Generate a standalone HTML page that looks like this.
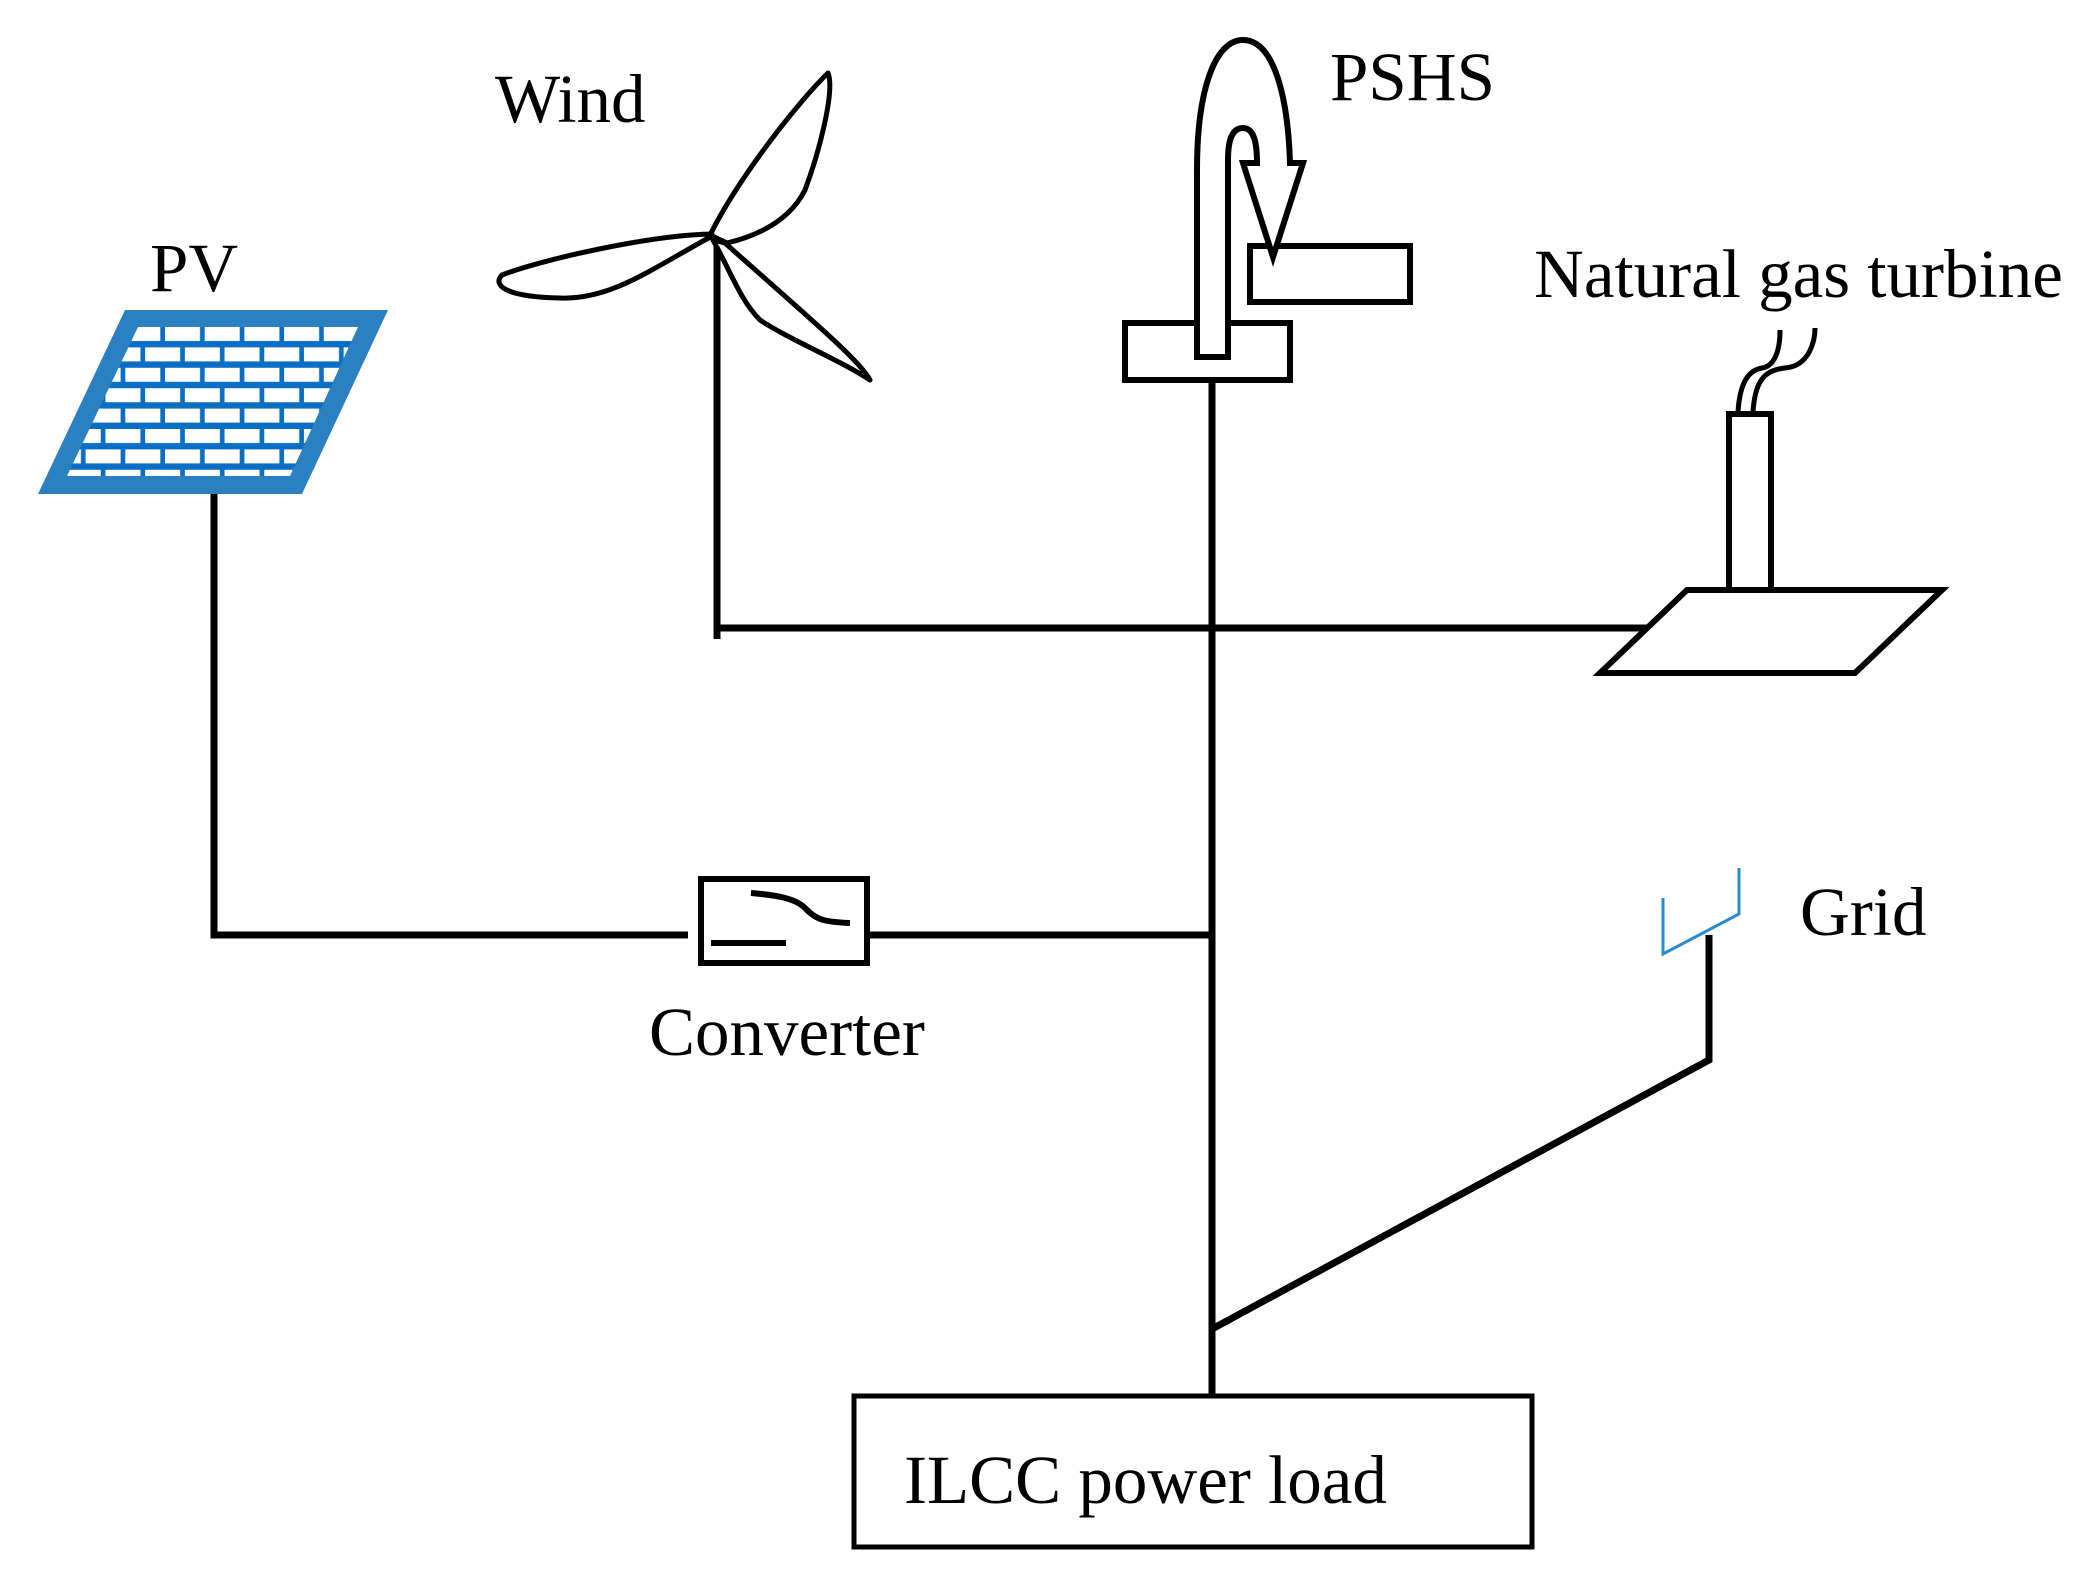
<!DOCTYPE html>
<html><head><meta charset="utf-8"><style>html,body{margin:0;padding:0;background:#fff}svg{display:block}</style></head>
<body>
<svg width="2084" height="1580" viewBox="0 0 2084 1580" xmlns="http://www.w3.org/2000/svg" font-family="Liberation Serif, serif">
<defs>
<pattern id="br" patternUnits="userSpaceOnUse" x="165" y="327" width="39.7" height="40.8">
<rect x="0" y="0" width="35" height="14" fill="#fff"/>
<rect x="19.85" y="20.4" width="35" height="14" fill="#fff"/>
<rect x="-19.85" y="20.4" width="35" height="14" fill="#fff"/>
</pattern>
</defs>
<!-- PV panel -->
<polygon points="125,310 388,310 302,494 38,494" fill="#2a80c0"/>
<polygon points="138,327 358,327 290,476 67,476" fill="#0a6fc4"/>
<polygon points="138,327 358,327 290,476 67,476" fill="url(#br)"/>
<g stroke="#000" stroke-width="7" fill="none">
<polyline points="214,494 214,935 688,935"/>
<line x1="870" y1="935" x2="1212" y2="935"/>
<line x1="1212" y1="383" x2="1212" y2="1400"/>
<line x1="717" y1="237" x2="717" y2="639"/>
<line x1="717" y1="628" x2="1660" y2="628"/>
<polyline points="1709,935 1709,1060 1212,1329"/>
</g>
<!-- converter -->
<rect x="701" y="879" width="166" height="84" fill="#fff" stroke="#000" stroke-width="6"/>
<line x1="711" y1="943" x2="786" y2="943" stroke="#000" stroke-width="6"/>
<path d="M751,893 C775,895 795,898 805,908 C815,918 820,922 850,923" stroke="#000" stroke-width="6" fill="none"/>
<!-- wind blades -->
<g stroke="#000" stroke-width="5" fill="#fff" stroke-linejoin="round">
<path d="M710,235 C740,175 800,100 828,73 C835,90 820,150 805,190 C790,220 760,235 727,243 Z"/>
<path d="M712,234 C650,235 540,260 502,275 C492,285 505,297 560,298 C610,300 650,270 712,236 Z"/>
<path d="M713,240 C730,270 740,300 760,320 C790,340 840,360 870,380 C860,360 800,310 725,243 Z"/>
</g>
<!-- PSHS -->
<rect x="1125" y="323" width="165" height="57" fill="#fff" stroke="#000" stroke-width="6"/>
<rect x="1250" y="246" width="160" height="56" fill="#fff" stroke="#000" stroke-width="6"/>
<path d="M1197,357 L1197,170 C1197,90 1215,40 1243,40 C1275,40 1288,100 1290,163 L1303,163 L1273,257 L1243,163 L1257,163 C1257,140 1253,128 1243,128 C1232,128 1228,140 1228,160 L1228,357 Z" fill="#fff" stroke="#000" stroke-width="6"/>
<!-- gas turbine -->
<g stroke="#000" stroke-width="6" fill="#fff">
<rect x="1729" y="414" width="42" height="176"/>
<polygon points="1600,673 1687,590 1942,590 1855,673"/>
</g>
<g stroke="#000" stroke-width="5" fill="none">
<path d="M1738,412 C1740,380 1750,370 1762,368 C1775,366 1780,350 1780,330"/>
<path d="M1753,412 C1755,380 1765,370 1785,368 C1810,366 1815,340 1815,328"/>
</g>
<!-- grid -->
<polyline points="1663,898 1663,954 1739,914 1739,868" stroke="#2a8ad0" stroke-width="3" fill="none"/>
<!-- load -->
<rect x="854" y="1396" width="678" height="151" fill="#fff" stroke="#000" stroke-width="5"/>
<g font-size="69" fill="#000">
<text x="150" y="291">PV</text>
<text x="495" y="122">Wind</text>
<text x="1330" y="100">PSHS</text>
<text x="1534" y="297">Natural gas turbine</text>
<text x="1800" y="935">Grid</text>
<text x="649" y="1055">Converter</text>
<text x="904" y="1503">ILCC power load</text>
</g>
</svg>
</body></html>
